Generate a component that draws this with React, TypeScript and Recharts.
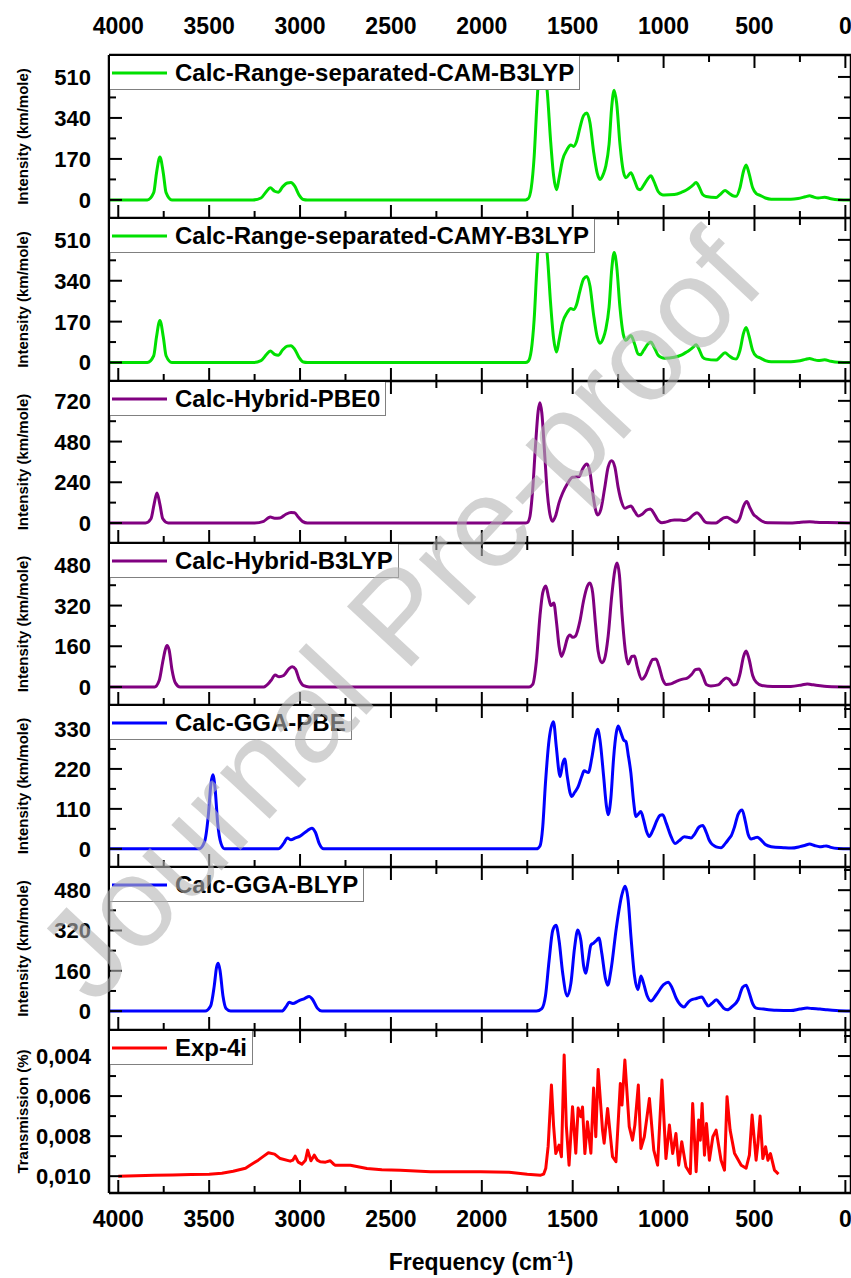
import React from 'react';
import { LineChart, Line, XAxis, YAxis, Legend } from 'recharts';

const FONT = '"Liberation Sans", Arial, sans-serif';

// x axis (wavenumber, cm-1), shared by all panels
const xDomain: [number, number] = [-31, 4051];
const xTicks = [0, 250, 500, 750, 1000, 1250, 1500, 1750, 2000, 2250, 2500, 2750, 3000, 3250, 3500, 3750, 4000];
const xMajor = [0, 500, 1000, 1500, 2000, 2500, 3000, 3500, 4000];

// [frequency, intensity]
const camB3lyp: [number, number][] = [
  [4051, 0], [3840, 0], [3805, 30], [3790, 110], [3771, 178], [3752, 110], [3737, 30], [3705, 0],
  [3260, 0], [3215, 8], [3185, 35], [3164, 50], [3140, 36], [3120, 32], [3095, 55], [3070, 70], [3050, 72], [3030, 58], [3005, 20], [2982, 2], [2960, 0],
  [1760, 0], [1745, 5], [1728, 50], [1712, 180], [1698, 380], [1685, 530], [1670, 575], [1655, 540], [1639, 440], [1622, 250], [1605, 100], [1589, 42],
  [1575, 90], [1556, 165], [1530, 210], [1511, 228], [1495, 222], [1480, 240], [1460, 300], [1440, 350], [1422, 360], [1405, 320], [1385, 200], [1365, 110], [1350, 85],
  [1330, 110], [1318, 140], [1300, 230], [1285, 390], [1272, 455], [1258, 400], [1240, 230], [1222, 120], [1207, 92], [1180, 113], [1160, 80], [1140, 45], [1128, 42],
  [1110, 60], [1085, 90], [1070, 100], [1055, 80], [1030, 35], [1010, 22], [996, 20], [941, 22], [900, 32], [877, 40], [860, 48], [840, 60], [821, 72], [805, 55],
  [785, 22], [766, 14], [711, 10], [690, 22], [662, 39], [640, 28], [615, 16], [601, 15], [580, 50], [560, 120], [546, 145], [530, 110], [510, 50], [490, 26],
  [472, 20], [440, 8], [408, 3], [300, 3], [260, 6], [220, 13], [197, 17], [175, 12], [150, 8], [114, 11], [80, 5], [40, 1], [-31, 0],
];

const camyB3lyp: [number, number][] = [
  [4051, 0], [3840, 0], [3805, 28], [3790, 105], [3771, 175], [3752, 105], [3737, 28], [3705, 0],
  [3260, 0], [3215, 8], [3185, 33], [3164, 48], [3140, 34], [3120, 30], [3095, 53], [3070, 68], [3050, 70], [3030, 56], [3005, 20], [2982, 2], [2960, 0],
  [1760, 0], [1745, 5], [1728, 50], [1712, 180], [1698, 380], [1685, 530], [1670, 575], [1655, 540], [1639, 440], [1622, 250], [1605, 100], [1589, 44],
  [1575, 92], [1556, 165], [1530, 208], [1511, 225], [1495, 220], [1480, 238], [1460, 298], [1440, 348], [1422, 358], [1405, 318], [1385, 198], [1365, 105], [1350, 80],
  [1330, 105], [1318, 138], [1300, 230], [1285, 390], [1272, 458], [1258, 400], [1240, 228], [1222, 118], [1207, 92], [1180, 112], [1160, 78], [1140, 35], [1128, 32],
  [1110, 50], [1085, 78], [1070, 85], [1055, 68], [1030, 30], [1010, 20], [996, 18], [941, 22], [900, 32], [877, 42], [860, 50], [840, 62], [821, 74], [805, 55],
  [785, 22], [766, 14], [711, 10], [690, 22], [662, 40], [640, 28], [615, 16], [601, 15], [580, 50], [560, 122], [546, 146], [530, 110], [510, 50], [490, 26],
  [472, 20], [440, 8], [408, 3], [300, 3], [260, 6], [220, 13], [197, 17], [175, 12], [150, 8], [114, 11], [80, 5], [40, 1], [-31, 0],
];

const pbe0: [number, number][] = [
  [4051, 0], [3850, 0], [3820, 25], [3803, 110], [3787, 177], [3771, 110], [3755, 25], [3725, 0],
  [3250, 0], [3200, 10], [3175, 30], [3164, 35], [3140, 28], [3110, 30], [3080, 50], [3050, 62], [3030, 60], [3010, 35], [2985, 8], [2960, 0],
  [1760, 0], [1749, 3], [1735, 40], [1720, 200], [1705, 450], [1690, 660], [1680, 709], [1670, 650], [1655, 420], [1640, 180], [1625, 50], [1611, 10],
  [1595, 40], [1575, 120], [1556, 175], [1530, 230], [1501, 270], [1480, 272], [1465, 273], [1445, 320], [1422, 348], [1405, 300], [1390, 180], [1375, 80], [1363, 47],
  [1345, 80], [1325, 200], [1305, 330], [1286, 367], [1268, 330], [1250, 210], [1230, 120], [1213, 87], [1195, 95], [1180, 100], [1160, 70], [1139, 41],
  [1120, 50], [1095, 75], [1073, 83], [1055, 60], [1030, 15], [1009, 2], [990, 5], [960, 15], [941, 18], [910, 17], [885, 14], [860, 25], [840, 45], [816, 61],
  [795, 40], [775, 10], [761, 2], [711, 0], [690, 15], [670, 30], [651, 34], [630, 22], [601, 4], [580, 30], [560, 100], [542, 126], [525, 90], [505, 50],
  [491, 37], [460, 12], [426, 1], [316, 0], [260, 3], [230, 6], [197, 8], [160, 5], [100, 3], [-31, 0],
];

const b3lyp: [number, number][] = [
  [4051, 0], [3800, 0], [3775, 25], [3755, 100], [3740, 150], [3732, 163], [3720, 145], [3705, 70], [3685, 15], [3660, 0],
  [3200, 0], [3160, 25], [3137, 47], [3115, 40], [3090, 45], [3060, 72], [3043, 79], [3025, 70], [3005, 30], [2980, 5], [2950, 0],
  [1740, 0], [1720, 10], [1700, 100], [1680, 280], [1665, 370], [1648, 397], [1632, 350], [1620, 320], [1604, 330], [1590, 260], [1575, 160], [1562, 120],
  [1545, 150], [1530, 190], [1515, 204], [1500, 195], [1485, 200], [1460, 260], [1440, 340], [1420, 395], [1405, 409], [1390, 370], [1375, 250], [1360, 140],
  [1340, 95], [1325, 110], [1305, 200], [1285, 360], [1268, 460], [1256, 487], [1243, 440], [1228, 280], [1210, 140], [1195, 90], [1175, 120], [1160, 122],
  [1145, 80], [1120, 30], [1100, 45], [1080, 80], [1060, 108], [1042, 110], [1025, 80], [1005, 30], [985, 10], [960, 12], [930, 22], [900, 30], [870, 35],
  [845, 50], [825, 68], [805, 71], [785, 45], [765, 10], [740, 4], [700, 8], [675, 25], [655, 35], [640, 30], [615, 8], [600, 10], [580, 50], [560, 120],
  [546, 141], [530, 110], [510, 45], [490, 18], [460, 6], [400, 2], [300, 2], [240, 8], [210, 12], [190, 10], [150, 6], [100, 2], [-31, 0],
];

const pbe: [number, number][] = [
  [4051, 0], [3555, 0], [3525, 20], [3505, 90], [3490, 180], [3480, 204], [3468, 170], [3453, 70], [3435, 15], [3415, 0],
  [3120, 0], [3090, 15], [3070, 30], [3050, 25], [3025, 30], [3000, 35], [2960, 50], [2935, 57], [2915, 45], [2895, 15], [2870, 0],
  [1700, 0], [1680, 8], [1665, 60], [1650, 180], [1630, 300], [1606, 350], [1590, 280], [1575, 210], [1569, 199], [1555, 235], [1544, 247], [1530, 200],
  [1515, 155], [1505, 144], [1490, 155], [1470, 171], [1450, 200], [1437, 215], [1414, 210], [1395, 250], [1375, 310], [1363, 329], [1350, 300], [1330, 200],
  [1315, 120], [1305, 94], [1290, 140], [1275, 250], [1260, 320], [1250, 338], [1235, 320], [1220, 300], [1207, 295], [1195, 260], [1180, 209], [1165, 130],
  [1152, 89], [1140, 95], [1125, 103], [1110, 80], [1095, 50], [1079, 34], [1060, 50], [1035, 80], [1020, 92], [1005, 94], [985, 70], [960, 35], [937, 15],
  [915, 22], [886, 33], [868, 32], [849, 30], [830, 40], [805, 60], [785, 64], [765, 45], [750, 25], [739, 16], [720, 8], [700, 4], [684, 3], [660, 15],
  [640, 28], [628, 36], [610, 60], [590, 95], [568, 107], [550, 75], [535, 40], [518, 27], [500, 30], [485, 32], [465, 25], [440, 12], [408, 6], [340, 3],
  [298, 2], [250, 6], [220, 10], [197, 13], [170, 9], [142, 6], [120, 7], [105, 8], [80, 4], [40, 1], [-31, 0],
];

const blyp: [number, number][] = [
  [4051, 0], [3522, 0], [3492, 20], [3472, 100], [3459, 175], [3450, 190], [3440, 160], [3424, 60], [3407, 10], [3382, 0],
  [3100, 0], [3075, 20], [3060, 35], [3040, 30], [3010, 40], [2975, 50], [2950, 58], [2930, 45], [2905, 12], [2880, 0],
  [1700, 0], [1670, 10], [1650, 60], [1630, 200], [1610, 320], [1592, 341], [1575, 280], [1555, 150], [1530, 60], [1510, 110], [1490, 250], [1472, 322],
  [1455, 280], [1440, 180], [1428, 150], [1415, 200], [1400, 262], [1385, 270], [1370, 280], [1356, 290], [1340, 230], [1320, 130], [1307, 103], [1290, 160],
  [1260, 330], [1230, 460], [1212, 496], [1195, 440], [1180, 300], [1160, 140], [1141, 85], [1125, 139], [1110, 110], [1090, 60], [1070, 40], [1040, 65],
  [1000, 105], [975, 115], [955, 95], [930, 50], [900, 20], [888, 16], [865, 35], [849, 44], [820, 50], [790, 56], [770, 35], [755, 20], [735, 30], [710, 45],
  [690, 30], [670, 12], [650, 5], [620, 20], [590, 45], [565, 95], [546, 103], [530, 75], [510, 30], [490, 12], [450, 8], [380, 3], [300, 2], [250, 8],
  [210, 12], [180, 10], [140, 8], [100, 5], [50, 2], [-31, 0],
];

// experimental transmission (%), axis reversed
const exp4i: [number, number][] = [
  [4000, 0.0100], [3900, 0.00998], [3800, 0.00995], [3700, 0.00994], [3600, 0.00992], [3500, 0.0099], [3430, 0.00985], [3368, 0.00975], [3300, 0.0096],
  [3275, 0.00945], [3230, 0.0092], [3200, 0.009], [3174, 0.00883], [3140, 0.0089], [3109, 0.00912], [3054, 0.00925], [3040, 0.0092], [3027, 0.009],
  [3010, 0.0093], [2990, 0.0094], [2970, 0.0092], [2958, 0.0087], [2948, 0.009], [2940, 0.00923], [2922, 0.00895], [2905, 0.0092], [2889, 0.00928],
  [2860, 0.0093], [2834, 0.00923], [2815, 0.0094], [2806, 0.00945], [2723, 0.00945], [2632, 0.00962], [2550, 0.00968], [2448, 0.0097], [2282, 0.00978],
  [2100, 0.00978], [2007, 0.00978], [1850, 0.0098], [1750, 0.0099], [1676, 0.00995], [1660, 0.0099], [1648, 0.0096], [1635, 0.0085], [1625, 0.0068],
  [1617, 0.00545], [1605, 0.0075], [1593, 0.00887], [1575, 0.00845], [1562, 0.00903], [1547, 0.00395], [1535, 0.0075], [1520, 0.00945], [1501, 0.00653],
  [1483, 0.00885], [1470, 0.0066], [1455, 0.00703], [1446, 0.00655], [1433, 0.00887], [1419, 0.00728], [1400, 0.00885], [1385, 0.0056], [1373, 0.00803],
  [1360, 0.00467], [1336, 0.0077], [1327, 0.00835], [1308, 0.00662], [1281, 0.00903], [1262, 0.00928], [1238, 0.00537], [1229, 0.00645], [1213, 0.0042],
  [1189, 0.00753], [1171, 0.0082], [1158, 0.00745], [1139, 0.00545], [1125, 0.00862], [1106, 0.00803], [1078, 0.00612], [1054, 0.0087], [1033, 0.00945],
  [1009, 0.0052], [987, 0.00912], [968, 0.00745], [950, 0.00887], [932, 0.00787], [917, 0.00945], [900, 0.00828], [877, 0.00953], [853, 0.00987],
  [840, 0.00637], [821, 0.00978], [807, 0.0072], [798, 0.0082], [788, 0.00637], [775, 0.00895], [764, 0.00737], [748, 0.0092], [729, 0.00803],
  [711, 0.0077], [684, 0.0092], [665, 0.0097], [651, 0.00603], [634, 0.0077], [610, 0.00885], [573, 0.00945], [546, 0.0096], [528, 0.00895],
  [513, 0.00695], [491, 0.0092], [481, 0.00837], [469, 0.007], [454, 0.00912], [439, 0.00853], [426, 0.0092], [412, 0.00887], [390, 0.0097], [368, 0.0099],
];

const panelEdges = [55, 218, 381, 543, 705, 867, 1030, 1193];

interface PanelCfg {
  name: string;
  color: string;
  points: [number, number][];
  domain: [number, number];
  ticks: number[];
  major: number[];
  yLabel: string;
  reversed?: boolean;
  smooth?: boolean;
  fmt: (v: number) => string;
}

const intFmt = (v: number) => String(v);
const commaFmt = (v: number) => v.toFixed(3).replace('.', ',');

const panels: PanelCfg[] = [
  { name: 'Calc-Range-separated-CAM-B3LYP', color: '#00e000', points: camB3lyp, domain: [-75, 601], ticks: [0, 85, 170, 255, 340, 425, 510], major: [0, 170, 340, 510], yLabel: 'Intensity (km/mole)', smooth: true, fmt: intFmt },
  { name: 'Calc-Range-separated-CAMY-B3LYP', color: '#00e000', points: camyB3lyp, domain: [-77, 601], ticks: [0, 85, 170, 255, 340, 425, 510], major: [0, 170, 340, 510], yLabel: 'Intensity (km/mole)', smooth: true, fmt: intFmt },
  { name: 'Calc-Hybrid-PBE0', color: '#800080', points: pbe0, domain: [-118, 837], ticks: [0, 120, 240, 360, 480, 600, 720], major: [0, 240, 480, 720], yLabel: 'Intensity (km/mole)', smooth: true, fmt: intFmt },
  { name: 'Calc-Hybrid-B3LYP', color: '#800080', points: b3lyp, domain: [-71, 566], ticks: [0, 80, 160, 240, 320, 400, 480], major: [0, 160, 320, 480], yLabel: 'Intensity (km/mole)', smooth: true, fmt: intFmt },
  { name: 'Calc-GGA-PBE', color: '#0000ff', points: pbe, domain: [-50, 396], ticks: [0, 55, 110, 165, 220, 275, 330, 385], major: [0, 110, 220, 330], yLabel: 'Intensity (km/mole)', smooth: true, fmt: intFmt },
  { name: 'Calc-GGA-BLYP', color: '#0000ff', points: blyp, domain: [-75, 572], ticks: [0, 80, 160, 240, 320, 400, 480, 560], major: [0, 160, 320, 480], yLabel: 'Intensity (km/mole)', smooth: true, fmt: intFmt },
  { name: 'Exp-4i', color: '#ff0000', points: exp4i, domain: [0.0027, 0.01084], ticks: [0.003, 0.004, 0.005, 0.006, 0.007, 0.008, 0.009, 0.01], major: [0.004, 0.006, 0.008, 0.01], yLabel: 'Transmission (%)', reversed: true, fmt: commaFmt },
];

const isIn = (list: number[], v: number) => list.some((m) => Math.abs(m - v) < 1e-9);

// x tick: inward tick mark, optional label outside
function XTick(props: any) {
  const { x, y, payload, dir, showLabel, labelDy } = props;
  const major = isIn(xMajor, payload.value);
  const len = major ? 13 : 7;
  return (
    <g>
      <line x1={x} y1={y} x2={x} y2={y + dir * len} stroke="#000" strokeWidth={2} />
      {showLabel && major && (
        <text x={x} y={y + labelDy} textAnchor="middle" fontFamily={FONT} fontWeight="bold" fontSize={23} fill="#000">
          {payload.value}
        </text>
      )}
    </g>
  );
}

function YTick(props: any) {
  const { x, y, payload, side, major, fmt } = props;
  const isMajor = isIn(major, payload.value);
  const len = isMajor ? 13 : 7;
  const dx = side === 'left' ? len : -len;
  return (
    <g>
      <line x1={x} y1={y} x2={x + dx} y2={y} stroke="#000" strokeWidth={2} />
      {side === 'left' && isMajor && (
        <text x={x - 18} y={y + 8} textAnchor="end" fontFamily={FONT} fontWeight="bold" fontSize={22} fill="#000">
          {fmt(payload.value)}
        </text>
      )}
    </g>
  );
}

function LegendBox({ color, name }: { color: string; name: string }) {
  return (
    <div
      style={{
        display: 'flex', alignItems: 'center', height: 34, boxSizing: 'border-box',
        border: '1px solid #808080', borderTop: 'none', borderLeft: 'none', background: '#fff', paddingRight: 5,
      }}
    >
      <svg width={65} height={30} style={{ flex: 'none' }}>
        <line x1={2} x2={57} y1={15} y2={15} stroke={color} strokeWidth={3} />
      </svg>
      <span style={{ fontFamily: FONT, fontWeight: 'bold', fontSize: 24, color: '#000', whiteSpace: 'nowrap' }}>{name}</span>
    </div>
  );
}

const AXIS_LINE = { stroke: '#000', strokeWidth: 2.5 };

function Panel({ cfg, idx }: { cfg: PanelCfg; idx: number }) {
  const first = idx === 0;
  const last = idx === panels.length - 1;
  const top = panelEdges[idx];
  const bottom = panelEdges[idx + 1];
  const topH = first ? 55 : 1;
  const botH = last ? 85 : 1;
  const height = bottom - top + topH + botH;
  const data = cfg.points.map(([f, v]) => ({ f, v }));

  const yLabel = (p: any) => {
    const vb = p.viewBox;
    const cy = vb.y + vb.height / 2;
    return (
      <text x={28} y={cy} transform={`rotate(-90 28 ${cy})`} textAnchor="middle" fontFamily={FONT} fontWeight="bold" fontSize={15} fill="#000">
        {cfg.yLabel}
      </text>
    );
  };

  const xLabel = (p: any) => {
    const vb = p.viewBox;
    return (
      <text x={481} y={vb.y + 77} textAnchor="middle" fontFamily={FONT} fontWeight="bold" fontSize={23} fill="#000">
        Frequency (cm<tspan dy={-9} fontSize={15}>-1</tspan><tspan dy={9}>)</tspan>
      </text>
    );
  };

  return (
    <div style={{ position: 'absolute', left: 0, top: top - topH }}>
      <LineChart width={852} height={height} data={data} margin={{ top: 0, right: 0, bottom: 0, left: 0 }}>
        <XAxis
          xAxisId="b" dataKey="f" type="number" domain={xDomain} allowDataOverflow reversed orientation="bottom"
          height={botH} ticks={xTicks} interval={0} tickSize={0} tickMargin={0} tickLine={false} axisLine={AXIS_LINE}
          tick={(p: any) => <XTick {...p} dir={-1} showLabel={last} labelDy={34} />}
          label={last ? { content: xLabel } : undefined}
        />
        <XAxis
          xAxisId="t" dataKey="f" type="number" domain={xDomain} allowDataOverflow reversed orientation="top"
          height={topH} ticks={xTicks} interval={0} tickSize={0} tickMargin={0} tickLine={false} axisLine={AXIS_LINE}
          tick={(p: any) => <XTick {...p} dir={1} showLabel={first} labelDy={-21} />}
        />
        <YAxis
          yAxisId="l" type="number" domain={cfg.domain} allowDataOverflow reversed={cfg.reversed} width={109}
          ticks={cfg.ticks} interval={0} tickSize={0} tickMargin={0} tickLine={false} axisLine={AXIS_LINE}
          tick={(p: any) => <YTick {...p} side="left" major={cfg.major} fmt={cfg.fmt} />}
          label={{ content: yLabel }}
        />
        <YAxis
          yAxisId="r" orientation="right" type="number" domain={cfg.domain} allowDataOverflow reversed={cfg.reversed} width={1}
          ticks={cfg.ticks} interval={0} tickSize={0} tickMargin={0} tickLine={false} axisLine={AXIS_LINE}
          tick={(p: any) => <YTick {...p} side="right" major={cfg.major} fmt={cfg.fmt} />}
        />
        <Line
          xAxisId="b" yAxisId="l" dataKey="v" type={cfg.smooth ? 'monotone' : 'linear'} stroke={cfg.color}
          strokeWidth={3} dot={false} activeDot={false} isAnimationActive={false} strokeLinejoin="round"
        />
        <Line
          xAxisId="t" yAxisId="r" dataKey="v" stroke="transparent" dot={false} activeDot={false}
          isAnimationActive={false} legendType="none"
        />
        <Legend
          layout="vertical" align="center" verticalAlign="middle"
          wrapperStyle={{ left: 110, top: topH + 1, width: 'auto', height: 34 }}
          content={() => <LegendBox color={cfg.color} name={cfg.name} />}
        />
      </LineChart>
    </div>
  );
}

export default function App() {
  return (
    <div style={{ position: 'absolute', left: 0, top: 0, width: 851, height: 1278, overflow: 'hidden', background: '#fff' }}>
      {panels.map((cfg, i) => (
        <Panel key={cfg.name} cfg={cfg} idx={i} />
      ))}
      <svg width={851} height={1278} style={{ position: 'absolute', left: 0, top: 0, pointerEvents: 'none' }}>
        <text
          x={398} y={660} transform="rotate(-47 398 615)" textAnchor="middle"
          fontFamily={FONT} fontSize={128} fill="#b4b4b4" fillOpacity={0.6}
        >
          Journal Pre-proof
        </text>
      </svg>
    </div>
  );
}
